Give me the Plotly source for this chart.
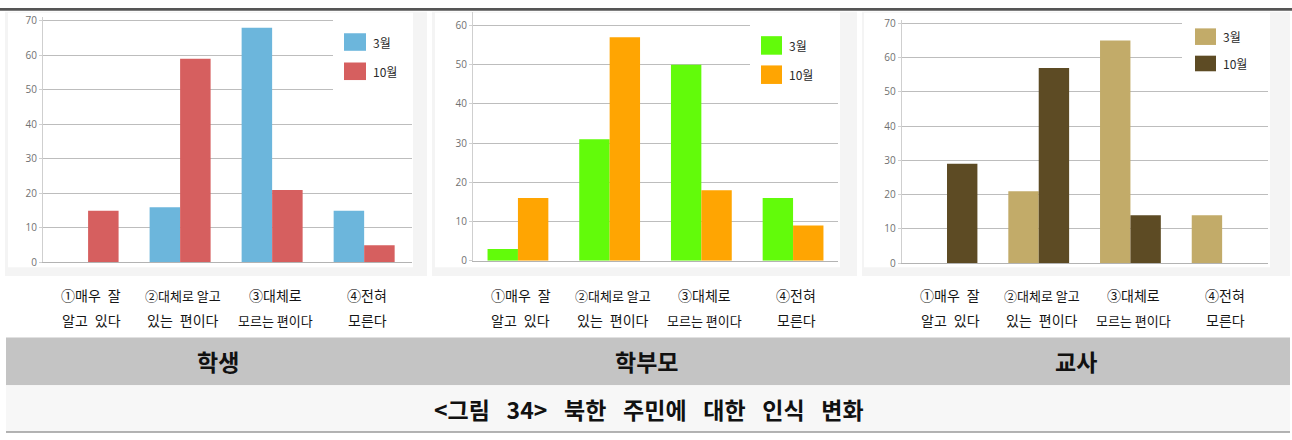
import plotly.graph_objects as go

W, H = 1292, 440

# ---------------- data ----------------
categories = ["①매우 잘 알고 있다", "②대체로 알고 있는 편이다", "③대체로 모르는 편이다", "④전혀 모른다"]
label_line1 = ["①매우 잘", "②대체로 알고", "③대체로", "④전혀"]
label_line2 = ["알고 있다", "있는 편이다", "모르는 편이다", "모른다"]
series_names = ["3월", "10월"]

student_mar = [0, 16, 68, 15]
student_oct = [15, 59, 21, 5]
parent_mar = [3, 31, 50, 16]
parent_oct = [16, 57, 18, 9]
teacher_mar = [0, 21, 65, 14]
teacher_oct = [29, 57, 14, 0]

group_titles = ["학생", "학부모", "교사"]
caption = "<그림 34> 북한 주민에 대한 인식 변화"

# ---------------- styling / geometry (pixels) ----------------
def xp(px):
    return px / W

def yp(py):
    return 1 - py / H

panels = [
    dict(values=(student_mar, student_oct), colors=("#6cb6dc", "#d65f5f"),
         x0=43, x1=412, ytop=13.8, ybot=265, xr=[-0.49, 3.52], yr=[0, 71],
         frame=(5, 427), inner=(8, 413),
         leg_box=(333, 413, 14, 90), sw=(344, 366), sw_y=((30, 48), (60, 78)), txt_x=371,
         title_x=218),
    dict(values=(parent_mar, parent_oct), colors=("#62fb0a", "#ffa502"),
         x0=473, x1=838, ytop=8, ybot=263.3, xr=[-0.49, 3.49], yr=[0, 63.5],
         frame=(432, 857), inner=(435, 840),
         leg_box=(750, 838, 18, 90), sw=(761, 782), sw_y=((33, 52), (63, 82)), txt_x=787,
         title_x=646),
    dict(values=(teacher_mar, teacher_oct), colors=("#c2ab69", "#5d4b24"),
         x0=901.7, x1=1268, ytop=16.5, ybot=265.7, xr=[-0.494, 3.5], yr=[0, 71],
         frame=(862, 1290), inner=(864, 1270),
         leg_box=(1182, 1268, 12, 84), sw=(1195, 1216), sw_y=((25, 42), (53, 69)), txt_x=1221,
         title_x=1076),
]

# label text sizes: the long ones are squeezed in the original table cells
line1_size = [14, 13, 14, 14]
line2_size = [14, 14, 13, 14]

def spaced(txt, size):
    # wide word gap as in the original table, except for squeezed cells
    return txt.replace(" ", "\u2002") if size >= 14 else txt

fig = go.Figure()
shapes = []
annotations = []
layout_axes = {}

FONT = "Noto Sans CJK KR"

for i, p in enumerate(panels):
    n = "" if i == 0 else str(i + 1)
    xa, ya = "x" + n, "y" + n
    for s, (vals, col) in enumerate(zip(p["values"], p["colors"])):
        fig.add_trace(go.Bar(
            x=categories, y=vals, name=series_names[s], xaxis=xa, yaxis=ya,
            marker=dict(color=col, line=dict(width=0)), showlegend=False,
        ))
    layout_axes["xaxis" + n] = dict(
        domain=[xp(p["x0"]), xp(p["x1"])], anchor=ya, range=p["xr"],
        showticklabels=False, ticks="", showgrid=False, zeroline=False,
        showline=True, linecolor="#b3b3b3", linewidth=1, fixedrange=True,
    )
    layout_axes["yaxis" + n] = dict(
        domain=[yp(p["ybot"]), yp(p["ytop"])], anchor=xa, range=p["yr"],
        dtick=10, tick0=0, showgrid=True, gridcolor="#bdbdbd", gridwidth=1,
        zeroline=False, showline=True, linecolor="#cfcfcf", linewidth=1,
        ticks="outside", ticklen=3, tickcolor="#cfcfcf",
        tickfont=dict(family="Open Sans", size=10, color="#707070"),
        fixedrange=True,
    )
    # image frame (light gray) and white interior
    shapes.append(dict(type="rect", xref="paper", yref="paper", layer="below",
                       x0=xp(p["frame"][0]), x1=xp(p["frame"][1]), y0=yp(279), y1=yp(8),
                       fillcolor="#f4f4f4", line=dict(width=0)))
    shapes.append(dict(type="rect", xref="paper", yref="paper", layer="below",
                       x0=xp(p["inner"][0]), x1=xp(p["inner"][1]), y0=yp(270), y1=yp(9),
                       fillcolor="#ffffff", line=dict(width=0)))
    # manual legend box
    bx0, bx1, by0, by1 = p["leg_box"]
    shapes.append(dict(type="rect", xref="paper", yref="paper", layer="above",
                       x0=xp(bx0), x1=xp(bx1), y0=yp(by1), y1=yp(by0),
                       fillcolor="#ffffff", line=dict(width=0)))
    for s in range(2):
        sy0, sy1 = p["sw_y"][s]
        shapes.append(dict(type="rect", xref="paper", yref="paper", layer="above",
                           x0=xp(p["sw"][0]), x1=xp(p["sw"][1]), y0=yp(sy1), y1=yp(sy0),
                           fillcolor=p["colors"][s], line=dict(width=0)))
        annotations.append(dict(xref="paper", yref="paper", x=xp(p["txt_x"]), y=yp((sy0 + sy1) / 2),
                                text=series_names[s], showarrow=False, xanchor="left", yanchor="middle",
                                font=dict(family=FONT, size=12, color="#2a2a2a")))
    # category labels below each chart
    for c, cat in enumerate(categories):
        annotations.append(dict(xref=xa, yref="paper", x=cat, y=yp(298.5), xshift=3,
                                text=spaced(label_line1[c], line1_size[c]), showarrow=False,
                                xanchor="center", yanchor="middle",
                                font=dict(family=FONT, size=line1_size[c], color="#151515")))
        annotations.append(dict(xref=xa, yref="paper", x=cat, y=yp(324.5), xshift=3,
                                text=spaced(label_line2[c], line2_size[c]), showarrow=False,
                                xanchor="center", yanchor="middle",
                                font=dict(family=FONT, size=line2_size[c], color="#151515")))
    # group title in gray band
    annotations.append(dict(xref="paper", yref="paper", x=xp(p["title_x"]), y=yp(366),
                            text="<b>" + group_titles[i] + "</b>", showarrow=False,
                            xanchor="center", yanchor="middle",
                            font=dict(family=FONT, size=23, color="#111111")))

# top dark rule
shapes.append(dict(type="rect", xref="paper", yref="paper", layer="below",
                   x0=0, x1=1, y0=yp(7), y1=yp(4), fillcolor="#555555", line=dict(width=0)))
# gray header band
shapes.append(dict(type="rect", xref="paper", yref="paper", layer="below",
                   x0=xp(6), x1=xp(1290), y0=yp(391), y1=yp(342), fillcolor="#c4c4c4", line=dict(width=0)))
# caption band
shapes.append(dict(type="rect", xref="paper", yref="paper", layer="below",
                   x0=xp(6), x1=xp(1290), y0=yp(439), y1=yp(391), fillcolor="#f7f7f7", line=dict(width=0)))
shapes.append(dict(type="line", xref="paper", yref="paper", layer="below",
                   x0=xp(6), x1=xp(1290), y0=yp(439), y1=yp(439), line=dict(color="#9a9a9a", width=1.5)))

annotations.append(dict(xref="paper", yref="paper", x=xp(649), y=yp(415),
                        text="<b>" + caption.replace(" ", "\u2002 ") + "</b>", showarrow=False,
                        xanchor="center", yanchor="middle",
                        font=dict(family=FONT, size=23, color="#111111")))

fig.update_layout(
    width=W, height=H, margin=dict(l=0, r=0, t=0, b=0),
    paper_bgcolor="#ffffff", plot_bgcolor="rgba(0,0,0,0)",
    barmode="group", bargap=0.337, bargroupgap=0,
    showlegend=False, shapes=shapes, annotations=annotations,
    **layout_axes,
)

fig.write_html("out.html", config={"displayModeBar": False},
               post_script="document.body.style.margin='0';")
